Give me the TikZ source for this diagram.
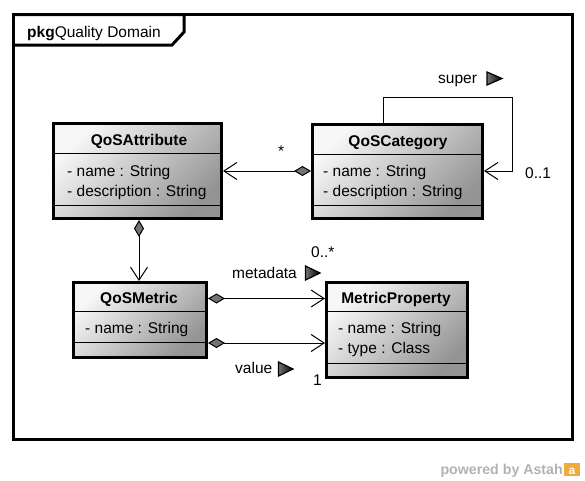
\documentclass[tikz,border=0pt]{standalone}
\usepackage{fontspec}
\setmainfont{Liberation Sans}
\usetikzlibrary{arrows.meta}
\definecolor{diafill}{gray}{0.45}
\definecolor{wmgray}{gray}{0.70}
\definecolor{astahorange}{RGB}{242,170,60}
\begin{document}
\begin{tikzpicture}[x=1pt,y=-1pt,
  cls/.style={draw, line width=3pt, anchor=north west, inner sep=0pt,
    top color=black!3, bottom color=black!42, shading angle=45},
  sep/.style={line width=1pt},
  ttl/.style={font=\fontsize{15.5}{18}\selectfont\bfseries, anchor=base, inner sep=0pt},
  att/.style={font=\fontsize{15.5}{18}\selectfont, anchor=base west, inner sep=0pt},
  lbl/.style={font=\fontsize{15.5}{18}\selectfont, anchor=base west, inner sep=0pt},
  comp/.style={line width=1pt, {Diamond[length=17pt,width=10pt,fill=diafill,line width=1pt]}-{Straight Barb[length=13pt,width=17pt,line width=1pt]}},
  nav/.style={line width=1pt, -{Straight Barb[length=13pt,width=17pt,line width=1pt]}},
  dirtri/.style={draw=black, line width=1.2pt, left color=black!55, right color=black, line join=miter}
]
\useasboundingbox (0,0) rectangle (585,480);

% package frame
\draw[line width=3pt] (13.5,14.5) rectangle (572.5,439.5);
\draw[line width=3pt] (13.5,14.5) -- (184,14.5) -- (184,32) -- (172,45) -- (13.5,45);
\node[anchor=base west, inner sep=0pt, font=\fontsize{15.5}{18}\selectfont] (pkgname) at (27,37)
  {\textbf{pkg}Quality Domain};

% classes
\node[cls, minimum width=168pt, minimum height=95pt] (attr) at (52,122) {};
\node[cls, minimum width=170pt, minimum height=94pt] (cat) at (311,123) {};
\node[cls, minimum width=133pt, minimum height=75pt] (metric) at (72,281) {};
\node[cls, minimum width=141pt, minimum height=95pt] (prop) at (325,281) {};

% compartments
\draw[sep] (attr.west |- 0,153) -- (attr.east |- 0,153);
\draw[sep] (attr.west |- 0,205) -- (attr.east |- 0,205);
\draw[sep] (cat.west |- 0,154) -- (cat.east |- 0,154);
\draw[sep] (cat.west |- 0,205) -- (cat.east |- 0,205);
\draw[sep] (metric.west |- 0,311) -- (metric.east |- 0,311);
\draw[sep] (metric.west |- 0,342) -- (metric.east |- 0,342);
\draw[sep] (prop.west |- 0,311) -- (prop.east |- 0,311);
\draw[sep] (prop.west |- 0,363) -- (prop.east |- 0,363);

% texts
\node[ttl] (attrT) at (139,145) {QoSAttribute};
\node[att] (attrA1) at (67,176) {- name : String};
\node[att] (attrA2) at (67,196) {- description : String};

\node[ttl] (catT) at (398,146) {QoSCategory};
\node[att] (catA1) at (323,176) {- name : String};
\node[att] (catA2) at (323,196) {- description : String};

\node[ttl] (metricT) at (139,303) {QoSMetric};
\node[att] (metricA1) at (85,333) {- name : String};

\node[ttl] (propT) at (396,303) {MetricProperty};
\node[att] (propA1) at (338,333) {- name : String};
\node[att] (propA2) at (338,353) {- type : Class};

% connectors
\draw[comp] (cat.west |- 0,171) -- (attr.east |- 0,171);
\coordinate (loopA) at (383,97.5);
\coordinate (loopB) at (512.5,97.5);
\draw[nav] (cat.north -| loopA) -- (loopA) -- (loopB) -- (loopB |- 0,171) -- (cat.east |- 0,171);
\draw[comp] (attr.south -| 139,0) -- (metric.north -| 139,0);
\draw[comp] (metric.east |- 0,298.5) -- (prop.west |- 0,298.5);
\draw[comp] (metric.east |- 0,343) -- (prop.west |- 0,343);

% labels
\node[lbl] (star) at (278,156) {*};
\node[lbl] (super) at (438,83) {super};
\draw[dirtri] (487,72) -- (502,78.5) -- (487,85) -- cycle;
\node[lbl] (m01) at (525,178) {0..1};
\node[lbl] (metadata) at (232,278) {metadata};
\draw[dirtri] (305.5,266) -- (320,273) -- (305.5,280) -- cycle;
\node[lbl] (m0s) at (311,257) {0..*};
\node[lbl] (value) at (235,373) {value};
\draw[dirtri] (278.5,362) -- (293,369) -- (278.5,376) -- cycle;
\node[lbl] (m1) at (313,385) {1};

% watermark
\node[anchor=base east, inner sep=0pt, text=wmgray, font=\fontsize{14.2}{16}\selectfont\bfseries] (wm) at (563,474) {powered by Astah};
\fill[astahorange] (564,463) rectangle (580,476);
\node[anchor=base, inner sep=0pt, text=white, font=\fontsize{12}{12}\selectfont\bfseries] (wmlogo) at (572,474.5) {a};
\end{tikzpicture}
\end{document}
